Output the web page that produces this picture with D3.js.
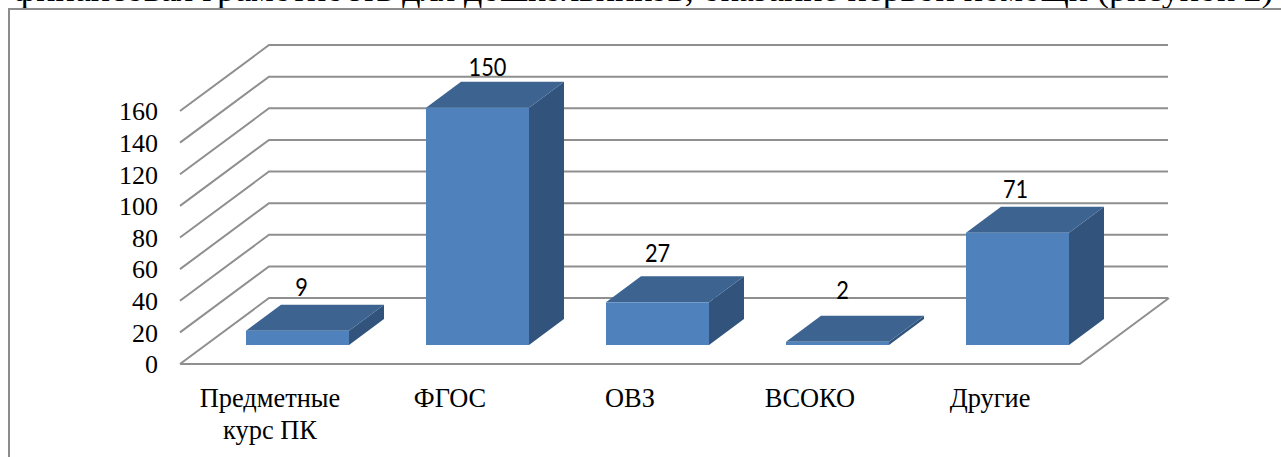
<!DOCTYPE html>
<html>
<head>
<meta charset="utf-8">
<script src="https://cdn.jsdelivr.net/npm/d3@7"></script>
<style>
  html, body { margin: 0; padding: 0; background: #fff; overflow: hidden; }
  svg { display: block; }
</style>
</head>
<body>
<div id="chart"></div>
<script>
const categories = ["Предметные курс ПК", "ФГОС", "ОВЗ", "ВСОКО", "Другие"];
const values = [9, 150, 27, 2, 71];
const yTicks = [0, 20, 40, 60, 80, 100, 120, 140, 160];
const topLine = "финансовая грамотность для дошкольников, оказание первой помощи (рисунок 2)";

const width = 1281, height = 457;
const serif = "'Liberation Serif', serif";

// глубина "стенки" и самих столбиков
const wallDx = 89, wallDy = -66;
const barDx = 35, barDy = -26;
const barW = 103;

// подписи в оригинале сдвинуты вручную
const labelDx = [4, 10, 0, 5, -2];
const labelDy = [-35, -32, -40, -43, -35];

const svg = d3.select("#chart").append("svg")
    .attr("width", width)
    .attr("height", height);

svg.append("text")
    .attr("x", 13)
    .attr("y", 1)
    .style("font-family", serif)
    .style("font-size", "36px")
    .text(topLine);

svg.append("path")
    .attr("d", `M${width},9H9V${height}`)
    .attr("fill", "none")
    .attr("stroke", "#8c8c8c")
    .attr("stroke-width", 2);

const x = d3.scaleBand()
    .domain(categories)
    .range([180, 1080]);

const y = d3.scaleLinear()
    .domain([0, 160])
    .range([364, 111]);

const gridColor = "#8f8f8f";
const grid = svg.append("g")
    .attr("fill", "none")
    .attr("stroke", gridColor)
    .attr("stroke-width", 2);

// линии на задней стенке + косые линии слева
grid.selectAll(".wall")
    .data(yTicks)
    .enter()
    .append("path")
    .attr("class", "wall")
    .attr("d", d => `M180,${y(d)}L${180 + wallDx},${y(d) + wallDy}H1168`);

// пол
grid.append("path")
    .attr("d", `M180,${y(0)}H1080L${1080 + wallDx},${y(0) + wallDy}`);

const yAxis = svg.append("g")
    .attr("transform", "translate(180,0)")
    .call(d3.axisLeft(y).tickValues(yTicks).tickSize(0).tickPadding(22));
yAxis.select(".domain").remove();
yAxis.selectAll("text")
    .attr("dy", "0.34em")
    .style("font-family", serif)
    .style("font-size", "26px")
    .style("fill", "#000");

const base = y(0) - 19;
const left = d => x(d) + 66;
const topY = v => base - (y(0) - y(v));

const bars = svg.selectAll(".bar")
    .data(categories.map((c, i) => ({ c: c, v: values[i], i: i })))
    .enter()
    .append("g")
    .attr("class", "bar");

bars.append("path")
    .attr("fill", "#32547c")
    .attr("d", d => `M${left(d.c) + barW},${base}V${topY(d.v)}l${barDx},${barDy}V${base + barDy}Z`);

bars.append("path")
    .attr("fill", "#3d6391")
    .attr("d", d => `M${left(d.c)},${topY(d.v)}h${barW}l${barDx},${barDy}h${-barW}Z`);

bars.append("rect")
    .attr("fill", "#4f81bd")
    .attr("x", d => left(d.c))
    .attr("y", d => topY(d.v))
    .attr("width", barW)
    .attr("height", d => base - topY(d.v));

// цифры чуть уже обычного Lato, как Calibri в оригинале
bars.append("text")
    .attr("transform", d => `translate(${left(d.c) + barW / 2 + labelDx[d.i]},${topY(d.v) + labelDy[d.i]}) scale(0.87,1)`)
    .attr("text-anchor", "middle")
    .style("font-family", "Lato, sans-serif")
    .style("font-size", "25px")
    .style("fill", "#000")
    .text(d => d.v);

// категории: первая в две строки
const xLabels = svg.selectAll(".cat")
    .data(categories)
    .enter()
    .append("text")
    .attr("class", "cat")
    .attr("text-anchor", "middle")
    .style("font-family", serif)
    .style("font-size", "26.4px");

xLabels.each(function (d) {
    const words = d === categories[0] ? ["Предметные", "курс ПК"] : [d];
    d3.select(this).selectAll("tspan")
        .data(words)
        .enter()
        .append("tspan")
        .attr("x", x(d) + x.bandwidth() / 2)
        .attr("y", (w, i) => 406.5 + i * 32)
        .text(w => w);
});
</script>
</body>
</html>
